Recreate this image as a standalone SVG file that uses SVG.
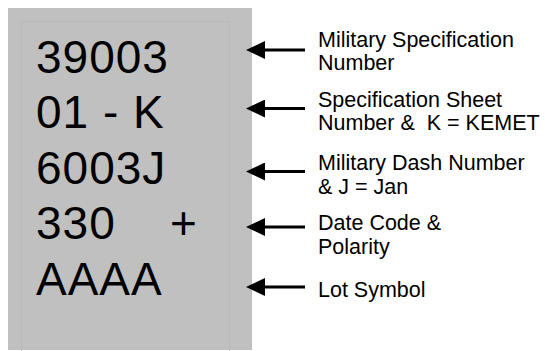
<svg xmlns="http://www.w3.org/2000/svg" width="545" height="351" viewBox="0 0 545 351">
  <style>
    .big { font-family: "Liberation Sans", Arial, sans-serif; font-size: 46px; letter-spacing: 1px; fill: #000; }
    .lbl { font-family: "Liberation Sans", Arial, sans-serif; font-size: 21.5px; fill: #000; }
    .arrow { stroke: #000; stroke-width: 3; fill: none; marker-end: url(#head); }
  </style>
  <defs>
    <marker id="head" markerUnits="userSpaceOnUse" markerWidth="19" markerHeight="18" viewBox="0 0 19 18" refX="5" refY="9" orient="auto">
      <path d="M0,0 L19,9 L0,18 Z" fill="#000"/>
    </marker>
  </defs>
  <g id="marking-panel">
    <rect x="8" y="8" width="244" height="342" fill="#c0c0c0"/>
    <rect x="21.5" y="21.5" width="208" height="340" fill="none" stroke="#b9b9b9" stroke-width="1"/>
    <text class="big" x="36" y="72.5">39003</text>
    <text class="big" x="36" y="128">01 - K</text>
    <text class="big" x="36" y="183.5">6003J</text>
    <text class="big" x="36" y="239"><tspan>330</tspan><tspan x="170">+</tspan></text>
    <text class="big" x="36" y="294.5">AAAA</text>
  </g>
  <g id="connectors">
    <line class="arrow" x1="305" y1="50" x2="260" y2="50"/>
    <line class="arrow" x1="305" y1="108.5" x2="260" y2="108.5"/>
    <line class="arrow" x1="305" y1="171.5" x2="260" y2="171.5"/>
    <line class="arrow" x1="305" y1="227" x2="260" y2="227"/>
    <line class="arrow" x1="305" y1="287" x2="260" y2="287"/>
  </g>
  <g id="label-mil-spec">
    <text class="lbl" x="318" y="46.5">Military Specification</text>
    <text class="lbl" x="318" y="70">Number</text>
  </g>
  <g id="label-spec-sheet">
    <text class="lbl" x="318" y="107">Specification Sheet</text>
    <text class="lbl" x="318" y="130" xml:space="preserve">Number &amp;  K = KEMET</text>
  </g>
  <g id="label-dash">
    <text class="lbl" x="318" y="170">Military Dash Number</text>
    <text class="lbl" x="318" y="193.5">&amp; J = Jan</text>
  </g>
  <g id="label-date">
    <text class="lbl" x="318" y="230">Date Code &amp;</text>
    <text class="lbl" x="318" y="253.5">Polarity</text>
  </g>
  <g id="label-lot">
    <text class="lbl" x="318" y="296.5">Lot Symbol</text>
  </g>
</svg>
